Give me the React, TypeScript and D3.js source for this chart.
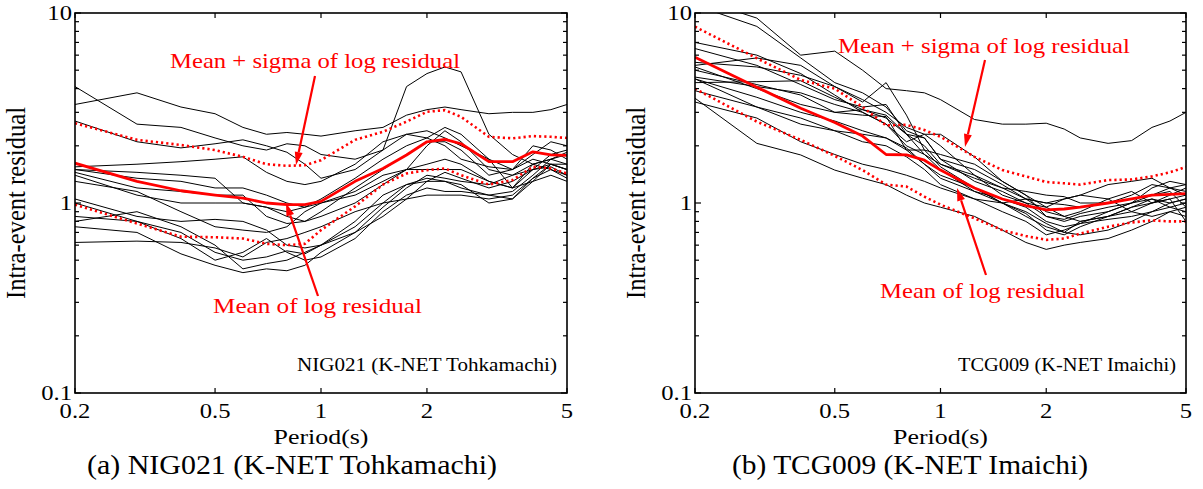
import React from 'react';
import * as d3 from 'd3';

// ---- data ----
const periods = [0.2, 0.3, 0.4, 0.5, 0.6, 0.7, 0.8, 0.9, 1.0, 1.25, 1.5, 1.75, 2.0, 2.25, 2.5, 3.0, 3.5, 4.0, 4.5, 5.0];
const xTicks = [0.2, 0.5, 1, 2, 5];
const xTickLabels = ['0.2', '0.5', '1', '2', '5'];
const yMajor = [0.1, 1, 10];
const yTickLabels = ['0.1', '1', '10'];

const nigLines = [
  [3.3, 3.8, 3.2, 2.95, 2.5, 2.3, 2.35, 2.3, 2.25, 2.4, 2.5, 2.9, 3.1, 3.2, 3.1, 2.95, 3.0, 3.0, 3.1, 3.3],
  [4.1, 2.6, 2.5, 2.2, 2.0, 1.9, 2.05, 2.0, 1.8, 1.7, 1.9, 4.1, 4.8, 5.2, 4.9, 2.3, 1.8, 1.6, 1.7, 1.6],
  [2.7, 2.1, 1.95, 2.05, 2.15, 2.0, 1.85, 1.6, 1.35, 1.5, 1.9, 2.3, 2.4, 2.2, 2.0, 1.7, 1.5, 2.0, 1.9, 1.7],
  [1.55, 1.6, 1.65, 1.7, 1.75, 1.45, 1.3, 1.25, 1.3, 1.6, 2.1, 2.3, 2.2, 2.0, 1.7, 1.55, 1.5, 1.8, 2.1, 2.0],
  [1.5, 1.45, 1.4, 1.35, 1.0, 0.95, 0.9, 0.95, 1.05, 1.35, 1.7, 2.0, 2.2, 2.5, 2.3, 1.7, 1.2, 1.5, 1.8, 1.9],
  [1.45, 1.2, 1.15, 1.1, 1.1, 0.85, 0.78, 0.8, 0.9, 1.2, 1.5, 1.8, 2.1, 2.1, 1.9, 1.4, 1.5, 1.7, 1.6, 1.5],
  [1.4, 1.1, 1.0, 1.0, 1.0, 0.95, 0.85, 0.8, 0.85, 1.0, 1.25, 1.5, 1.6, 1.7, 1.6, 1.3, 1.2, 1.6, 1.7, 1.8],
  [1.3, 1.15, 0.9, 0.75, 0.72, 0.7, 0.75, 0.9, 1.0, 1.15, 1.4, 1.5, 1.5, 1.5, 1.5, 1.3, 1.2, 1.3, 1.4, 1.3],
  [1.05, 0.85, 0.8, 0.82, 0.8, 0.72, 0.6, 0.58, 0.6, 0.75, 1.0, 1.25, 1.35, 1.3, 1.2, 1.1, 1.05, 1.35, 1.5, 1.4],
  [1.0, 0.8, 0.7, 0.55, 0.5, 0.52, 0.56, 0.54, 0.6, 0.7, 0.85, 1.05, 1.3, 1.45, 1.35, 1.2, 1.3, 1.5, 1.6, 1.5],
  [0.8, 0.9, 0.75, 0.6, 0.45, 0.48, 0.5, 0.55, 0.6, 0.8, 1.1, 1.25, 1.3, 1.3, 1.25, 1.0, 1.05, 1.3, 1.6, 1.5],
  [0.85, 0.8, 0.65, 0.5, 0.55, 0.65, 0.55, 0.5, 0.52, 0.65, 0.9, 1.1, 1.2, 1.15, 1.15, 1.1, 1.15, 1.4, 1.7, 1.85],
  [0.62, 0.63, 0.62, 0.58, 0.52, 0.62, 0.65, 0.7, 0.75, 0.9, 1.0, 1.05, 1.1, 1.1, 1.1, 1.05, 1.1, 1.35, 1.6, 1.6],
  [1.5, 1.35, 1.3, 1.2, 1.2, 1.1, 1.0, 0.95, 1.0, 1.1, 1.3, 1.5, 2.0, 2.4, 2.1, 1.5, 1.4, 1.5, 1.55, 1.4],
  [0.75, 0.7, 0.54, 0.47, 0.43, 0.45, 0.44, 0.47, 0.55, 0.7, 0.95, 1.2, 1.4, 1.35, 1.3, 1.25, 1.4, 1.6, 1.5, 1.35],
];
const nigMean = [1.62, 1.3, 1.16, 1.1, 1.06, 1.0, 0.98, 0.98, 1.02, 1.3, 1.52, 1.79, 2.1, 2.16, 2.05, 1.65, 1.65, 1.86, 1.79, 1.78];
const nigUpper = [2.63, 2.15, 2.02, 1.9, 1.75, 1.6, 1.57, 1.58, 1.68, 2.15, 2.37, 2.68, 3.02, 3.08, 2.84, 2.23, 2.19, 2.25, 2.23, 2.2];
const nigLower = [0.98, 0.78, 0.665, 0.66, 0.65, 0.61, 0.6, 0.61, 0.72, 0.96, 1.25, 1.43, 1.49, 1.52, 1.4, 1.25, 1.32, 1.55, 1.52, 1.43];

const tcgLines = [
  [12, 9.4, 6.0, 6.3, 5.0, 4.0, 3.9, 3.8, 3.5, 2.75, 2.6, 2.6, 2.63, 2.45, 2.2, 2.06, 2.13, 2.5, 2.7, 3.0],
  [11, 8.5, 5.8, 4.3, 3.8, 3.2, 2.4, 2.2, 1.7, 1.5, 1.25, 1.05, 1.0, 0.98, 0.95, 1.0, 1.05, 1.1, 1.2, 1.25],
  [7.0, 6.0, 4.8, 3.7, 3.0, 2.6, 2.1, 2.3, 2.0, 1.4, 1.1, 1.0, 0.85, 0.8, 0.85, 0.9, 1.0, 1.2, 1.3, 1.25],
  [6.5, 5.3, 4.2, 3.5, 3.2, 3.3, 2.3, 2.2, 1.7, 1.3, 1.15, 1.0, 0.95, 1.05, 1.1, 1.25, 1.3, 1.35, 1.2, 1.1],
  [5.3, 5.8, 5.3, 4.1, 3.4, 4.3, 2.9, 1.9, 1.55, 1.2, 1.0, 0.85, 0.75, 0.7, 0.8, 0.85, 0.9, 1.0, 1.1, 1.2],
  [5.5, 5.2, 4.7, 4.1, 3.5, 3.0, 2.5, 2.3, 2.3, 1.75, 1.3, 1.1, 0.95, 0.85, 0.8, 0.85, 0.95, 1.05, 1.0, 1.05],
  [5.2, 4.0, 3.3, 3.0, 3.1, 2.8, 2.3, 1.8, 1.6, 1.4, 1.2, 1.05, 0.9, 0.85, 0.9, 1.05, 1.15, 1.0, 1.05, 1.1],
  [5.0, 4.2, 3.7, 3.0, 2.9, 2.85, 1.9, 1.9, 1.8, 1.6, 1.3, 1.1, 0.85, 0.82, 0.88, 0.95, 1.0, 1.1, 1.15, 0.95],
  [4.6, 4.1, 3.8, 3.3, 3.0, 2.6, 2.0, 1.8, 1.5, 1.15, 1.05, 0.95, 0.8, 0.75, 0.78, 0.9, 1.0, 1.05, 0.95, 0.9],
  [4.3, 4.35, 4.4, 3.6, 3.1, 2.9, 2.3, 2.0, 1.6, 1.35, 1.2, 1.15, 1.1, 1.08, 1.0, 1.0, 1.1, 1.25, 1.2, 1.15],
  [4.5, 3.6, 3.0, 2.7, 2.4, 2.2, 1.95, 1.6, 1.35, 1.15, 1.0, 0.88, 0.72, 0.68, 0.75, 0.85, 0.95, 1.0, 1.05, 0.8],
  [3.9, 3.2, 2.8, 2.4, 2.1, 2.0, 1.75, 1.5, 1.25, 1.05, 0.9, 0.8, 0.68, 0.72, 0.78, 0.82, 0.85, 0.9, 0.95, 1.0],
  [3.4, 2.8, 2.1, 1.8, 1.6, 1.5, 1.4, 1.3, 1.2, 1.05, 1.0, 1.05, 1.0, 1.05, 1.1, 1.05, 0.9, 0.85, 0.9, 0.85],
  [4.5, 3.2, 2.6, 2.4, 2.3, 2.2, 1.9, 1.6, 1.4, 1.2, 1.0, 0.9, 0.78, 0.7, 0.68, 0.72, 0.8, 0.9, 1.0, 1.05],
  [3.56, 2.06, 1.79, 1.49, 1.35, 1.25, 1.1, 1.0, 0.95, 0.85, 0.72, 0.62, 0.57, 0.6, 0.62, 0.65, 0.72, 0.8, 0.9, 0.95],
];
const tcgMean = [5.85, 4.07, 3.15, 2.65, 2.25, 1.8, 1.79, 1.68, 1.49, 1.2, 1.05, 0.97, 0.92, 0.93, 0.95, 1.0, 1.05, 1.1, 1.11, 1.12];
const tcgUpper = [8.47, 5.78, 4.44, 4.0, 3.2, 2.56, 2.58, 2.42, 2.23, 1.75, 1.49, 1.38, 1.29, 1.27, 1.25, 1.32, 1.33, 1.38, 1.45, 1.55];
const tcgLower = [4.0, 2.68, 2.15, 1.77, 1.49, 1.25, 1.22, 1.08, 0.98, 0.83, 0.72, 0.67, 0.64, 0.65, 0.69, 0.75, 0.79, 0.81, 0.8, 0.8];

const FONT = '"Liberation Serif", "Times New Roman", Times, serif';
const RED = '#ff0000';
const SX = 1.12; // horizontal stretch of the reference's lettering

type Ann = { text: string; tx: number; ty: number; w: number; ax1: number; ay1: number; ax2: number; ay2: number };

type PanelProps = {
  id: string;
  x0: number;
  x1: number;
  lines: number[][];
  mean: number[];
  upper: number[];
  lower: number[];
  station: string;
  stationW: number;
  caption: string;
  captionX: number;
  captionW: number;
  annUpper: Ann;
  annMean: Ann;
};

const Y0 = 13;
const Y1 = 393;

function T({
  x,
  y,
  size,
  anchor = 'start',
  fill = '#000',
  w,
  children,
}: {
  x: number;
  y: number;
  size: number;
  anchor?: 'start' | 'middle' | 'end';
  fill?: string;
  w?: number;
  children: React.ReactNode;
}) {
  if (w) {
    return (
      <text
        x={x}
        y={y}
        fontFamily={FONT}
        fontSize={size}
        fill={fill}
        textAnchor={anchor}
        textLength={w}
        lengthAdjust="spacingAndGlyphs"
      >
        {children}
      </text>
    );
  }
  return (
    <text
      transform={`translate(${x},${y}) scale(${SX},1)`}
      fontFamily={FONT}
      fontSize={size}
      fill={fill}
      textAnchor={anchor}
    >
      {children}
    </text>
  );
}

function Arrow({ a }: { a: Ann }) {
  const dx = a.ax2 - a.ax1;
  const dy = a.ay2 - a.ay1;
  const len = Math.sqrt(dx * dx + dy * dy);
  const ux = dx / len;
  const uy = dy / len;
  const hl = 13;
  const hw = 4;
  const bx = a.ax2 - ux * hl;
  const by = a.ay2 - uy * hl;
  const pts = [
    [a.ax2, a.ay2],
    [bx - uy * hw, by + ux * hw],
    [bx + uy * hw, by - ux * hw],
  ];
  return (
    <g>
      <line x1={a.ax1} y1={a.ay1} x2={bx} y2={by} stroke={RED} strokeWidth={2.2} />
      <polygon points={pts.map((p) => p.join(',')).join(' ')} fill={RED} />
    </g>
  );
}

function Panel(p: PanelProps) {
  const x = d3.scaleLog().domain([0.2, 5]).range([p.x0, p.x1]);
  const y = d3.scaleLog().domain([0.1, 10]).range([Y1, Y0]);
  const line = d3
    .line<number>()
    .x((_, i) => x(periods[i]))
    .y((d) => y(d));
  const minor: number[] = [];
  [0.1, 1].forEach((b) => {
    for (let k = 2; k <= 9; k++) minor.push(b * k);
  });
  const cx = (p.x0 + p.x1) / 2;
  return (
    <g>
      <defs>
        <clipPath id={`clip-${p.id}`}>
          <rect x={p.x0} y={Y0} width={p.x1 - p.x0} height={Y1 - Y0} />
        </clipPath>
      </defs>
      <g clipPath={`url(#clip-${p.id})`}>
        {p.lines.map((l, i) => (
          <path key={i} d={line(l) || ''} fill="none" stroke="#000" strokeWidth={1} />
        ))}
        <path d={line(p.upper) || ''} fill="none" stroke={RED} strokeWidth={2.6} strokeDasharray="2.2,3" />
        <path d={line(p.lower) || ''} fill="none" stroke={RED} strokeWidth={2.6} strokeDasharray="2.2,3" />
        <path d={line(p.mean) || ''} fill="none" stroke={RED} strokeWidth={2.8} strokeLinejoin="round" />
      </g>
      <rect x={p.x0} y={Y0} width={p.x1 - p.x0} height={Y1 - Y0} fill="none" stroke="#000" strokeWidth={1.6} />
      {xTicks.map((t, i) => (
        <g key={`xt${i}`}>
          <line x1={x(t)} x2={x(t)} y1={Y1} y2={Y1 - 5} stroke="#000" strokeWidth={1.2} />
          <line x1={x(t)} x2={x(t)} y1={Y0} y2={Y0 + 5} stroke="#000" strokeWidth={1.2} />
          <T x={x(t)} y={Y1 + 25} size={22} anchor="middle">
            {xTickLabels[i]}
          </T>
        </g>
      ))}
      {yMajor.map((t, i) => (
        <g key={`ym${i}`}>
          <line x1={p.x0} x2={p.x0 + 6} y1={y(t)} y2={y(t)} stroke="#000" strokeWidth={1.2} />
          <line x1={p.x1} x2={p.x1 - 6} y1={y(t)} y2={y(t)} stroke="#000" strokeWidth={1.2} />
          <T x={p.x0 - 3} y={y(t) + 7} size={22} anchor="end">
            {yTickLabels[i]}
          </T>
        </g>
      ))}
      {minor.map((t, i) => (
        <g key={`yn${i}`}>
          <line x1={p.x0} x2={p.x0 + 4} y1={y(t)} y2={y(t)} stroke="#000" strokeWidth={1.2} />
          <line x1={p.x1} x2={p.x1 - 4} y1={y(t)} y2={y(t)} stroke="#000" strokeWidth={1.2} />
        </g>
      ))}
      <T x={cx} y={Y1 + 51} size={22} anchor="middle" w={95}>
        Period(s)
      </T>
      <text
        transform={`translate(${p.x0 - 50},${(Y0 + Y1) / 2}) rotate(-90) scale(1,${SX})`}
        textAnchor="middle"
        fontFamily={FONT}
        fontSize={24}
        textLength={192}
        lengthAdjust="spacingAndGlyphs"
      >
        Intra-event residual
      </text>
      <T x={p.x1 - 10} y={Y1 - 22} size={18} anchor="end" w={p.stationW}>
        {p.station}
      </T>
      <T x={p.captionX} y={Y1 + 81} size={27} anchor="start" w={p.captionW}>
        {p.caption}
      </T>
      {[p.annUpper, p.annMean].map((a, i) => (
        <g key={`ann${i}`}>
          <T x={a.tx} y={a.ty} size={22} fill={RED} w={a.w}>
            {a.text}
          </T>
          <Arrow a={a} />
        </g>
      ))}
    </g>
  );
}

export default function App() {
  return (
    <svg width={1203} height={489} style={{ position: 'absolute', left: 0, top: 0, background: '#fff' }}>
      <Panel
        id="a"
        x0={75}
        x1={567}
        lines={nigLines}
        mean={nigMean}
        upper={nigUpper}
        lower={nigLower}
        station="NIG021 (K-NET Tohkamachi)"
        stationW={260}
        caption="(a) NIG021 (K-NET Tohkamachi)"
        captionX={87}
        captionW={410}
        annUpper={{ text: 'Mean + sigma of log residual', tx: 170, ty: 68, w: 290, ax1: 315, ay1: 76, ax2: 296, ay2: 165 }}
        annMean={{ text: 'Mean of log residual', tx: 213, ty: 313, w: 209, ax1: 318, ay1: 296, ax2: 286, ay2: 203 }}
      />
      <Panel
        id="b"
        x0={695}
        x1={1186}
        lines={tcgLines}
        mean={tcgMean}
        upper={tcgUpper}
        lower={tcgLower}
        station="TCG009 (K-NET Imaichi)"
        stationW={218}
        caption="(b) TCG009 (K-NET Imaichi)"
        captionX={732}
        captionW={356}
        annUpper={{ text: 'Mean + sigma of log residual', tx: 838, ty: 53, w: 292, ax1: 985, ay1: 60, ax2: 965, ay2: 147 }}
        annMean={{ text: 'Mean of log residual', tx: 880, ty: 298, w: 205, ax1: 986, ay1: 275, ax2: 957, ay2: 188 }}
      />
    </svg>
  );
}
